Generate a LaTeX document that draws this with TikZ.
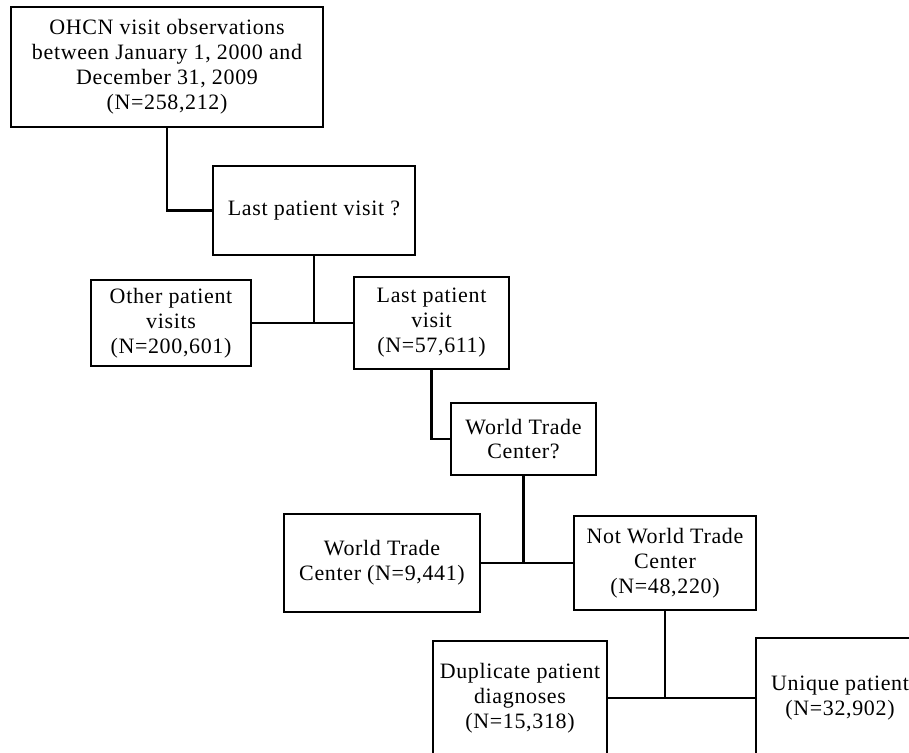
\documentclass[tikz,border=0pt]{standalone}
\usepackage{fontspec}
\setmainfont{Liberation Serif}[LetterSpace=3]
\usepackage{tikz}

\begin{document}
\begin{tikzpicture}[x=0.02cm, y=-0.02cm,
             every node/.style = {draw, shape=rectangle, inner sep=0pt, align=center,
                                  line width=1.4pt, font=\fontsize{12.5}{14.2}\selectfont},
             link/.style = {line width=1.4pt}]
\path [use as bounding box, clip] (0,0) rectangle (909,752);

\node (obs) at (167,67) [minimum width=6.24cm, minimum height=2.4cm]
  {OHCN visit observations\\between January 1, 2000 and\\December 31, 2009\\(N=258,212)};
\node (lastq) at (314,210.5) [minimum width=4.04cm, minimum height=1.78cm] {Last patient visit ?};

\node (other) at (171,323) [minimum width=3.2cm, minimum height=1.72cm] {Other patient\\visits\\(N=200,601)};
\node (last) at (431.5,323) [minimum width=3.1cm, minimum height=1.84cm] {Last patient\\visit\\(N=57,611)};

\node (wtcq) at (523.5,439) [minimum width=2.9cm, minimum height=1.44cm] {World Trade\\Center?};

\node (wtc) at (382,563) [minimum width=3.92cm, minimum height=1.96cm] {World Trade\\Center (N=9,441)};
\node (nowtc) at (665,563) [minimum width=3.64cm, minimum height=1.88cm] {Not World Trade\\Center\\(N=48,220)};

\node (dup) at (520,698) [minimum width=3.48cm, minimum height=2.28cm] {Duplicate patient\\diagnoses\\(N=15,318)};
\node (uniq) at (840,698) [minimum width=3.36cm, minimum height=2.4cm] {Unique patient\\(N=32,902)};

\draw [link] (obs.south) |- (lastq.west);
\draw [link] (other.east) -- (last.west);
\draw [link] (lastq.south) -- (lastq.south |- last.west);
\draw [link] (last.south) |- (wtcq.west);
\draw [link] (wtc.east) -- (nowtc.west);
\draw [link] (wtcq.south) -- (wtcq.south |- wtc.east);
\draw [link] (dup.east) -- (uniq.west);
\draw [link] (nowtc.south) -- (nowtc.south |- dup.east);

\end{tikzpicture}
\end{document}
